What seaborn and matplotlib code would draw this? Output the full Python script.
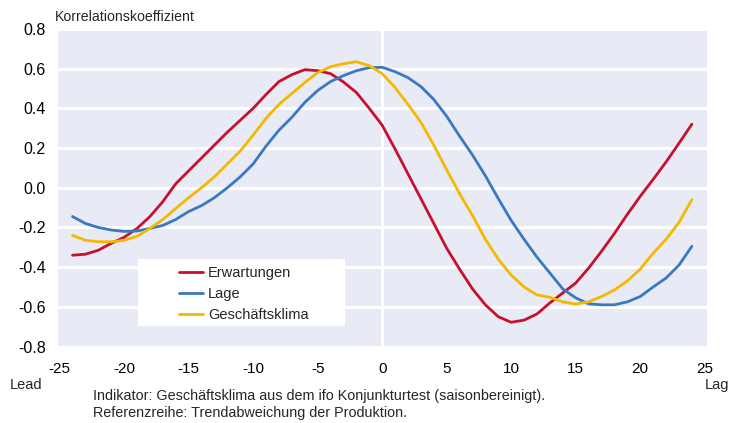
import numpy as np
import pandas as pd
import matplotlib
matplotlib.use("Agg")
import matplotlib.pyplot as plt
import seaborn as sns
from matplotlib.patches import Rectangle

lags = list(range(-24, 25))
erwartungen = [-0.34, -0.335, -0.315, -0.28, -0.25, -0.205, -0.145, -0.07, 0.02, 0.085, 0.15, 0.215, 0.28,
               0.34, 0.40, 0.47, 0.535, 0.57, 0.595, 0.59, 0.575, 0.533, 0.48, 0.40, 0.315,
               0.195, 0.07, -0.055, -0.18, -0.305, -0.41, -0.51, -0.59, -0.65, -0.678, -0.667, -0.636, -0.58,
               -0.53, -0.48, -0.405, -0.32, -0.23, -0.134, -0.043, 0.042, 0.13, 0.224, 0.32]
lage = [-0.145, -0.18, -0.20, -0.213, -0.22, -0.218, -0.205, -0.19, -0.16, -0.12, -0.09, -0.05, 0.0,
        0.055, 0.12, 0.21, 0.29, 0.355, 0.43, 0.49, 0.535, 0.565, 0.59, 0.605, 0.607,
        0.585, 0.555, 0.51, 0.445, 0.36, 0.26, 0.165, 0.06, -0.055, -0.165, -0.26, -0.35, -0.43,
        -0.51, -0.555, -0.585, -0.59, -0.59, -0.575, -0.548, -0.50, -0.455, -0.39, -0.295]
klima = [-0.24, -0.265, -0.272, -0.272, -0.265, -0.245, -0.205, -0.16, -0.105, -0.05, 0.0, 0.055, 0.12,
         0.185, 0.265, 0.35, 0.42, 0.475, 0.53, 0.58, 0.61, 0.625, 0.635, 0.615, 0.575,
         0.505, 0.42, 0.33, 0.215, 0.09, -0.03, -0.14, -0.26, -0.36, -0.44, -0.50, -0.54, -0.552,
         -0.575, -0.586, -0.575, -0.548, -0.515, -0.47, -0.41, -0.33, -0.26, -0.175, -0.06]
series_names = ["Erwartungen", "Lage", "Geschäftsklima"]
colors = ["#C8102E", "#3A78C2", "#F5B800"]
xticks = [-25, -20, -15, -10, -5, 0, 5, 10, 15, 20, 25]
yticks = [-0.8, -0.6, -0.4, -0.2, 0.0, 0.2, 0.4, 0.6, 0.8]

df = pd.concat([
    pd.DataFrame({"lag": lags, "value": vals, "series": name})
    for name, vals in zip(series_names, [erwartungen, lage, klima])
])

sns.set_style("darkgrid", {"axes.facecolor": "#E8EBF5", "grid.color": "white"})
plt.rcParams["font.family"] = ["Liberation Sans", "DejaVu Sans"]

W, H = 730, 423
fig = plt.figure(figsize=(W / 100, H / 100), dpi=100)
ax = fig.add_axes([58.3 / W, 1 - 346.5 / H, (706.7 - 58.3) / W, (346.5 - 29) / H])

sns.lineplot(data=df, x="lag", y="value", hue="series", palette=colors,
             hue_order=series_names, linewidth=2.0, ax=ax, legend=True)

ax.set_xlim(-25.1, 25.15)
ax.set_ylim(-0.8, 0.8)
ax.set_xticks(xticks)
ax.set_yticks(yticks)
ax.set_xticklabels([str(t) for t in xticks])
ax.set_yticklabels([f"{t:.1f}" for t in yticks])
ax.grid(axis="x", visible=False)
ax.grid(axis="y", color="white", linewidth=2.2)
ax.axvline(0, color="white", linewidth=2.2, zorder=1)
for sp in ax.spines.values():
    sp.set_visible(False)
ax.tick_params(axis="x", length=0, pad=11, labelsize=11, colors="black")
ax.tick_params(axis="y", length=0, pad=9, labelsize=11.5, colors="black")
ax.set_xlabel("")
ax.set_ylabel("")

# legend box
lx0, lx1, ly0, ly1 = 138.3, 345, 259, 325.7
ax.add_patch(Rectangle(((lx0 - 58.3) / 648.4, (346.5 - ly1) / 317.5),
                       (lx1 - lx0) / 648.4, (ly1 - ly0) / 317.5,
                       transform=ax.transAxes, facecolor="white", edgecolor="none", zorder=2))
leg = ax.legend(loc="upper left", bbox_to_anchor=((175 - 58.3) / 648.4, (346.5 - 262) / 317.5),
                frameon=False, fontsize=10.5, handlelength=1.67, handletextpad=0.34,
                labelspacing=0.48, borderaxespad=0, borderpad=0.25)
for line in leg.get_lines():
    line.set_linewidth(2.0)
leg.set_zorder(3)

fig.text(55 / W, 1 - 17 / H, "Korrelationskoeffizient", fontsize=10.2, va="center", ha="left")
fig.text(10 / W, 1 - 385 / H, "Lead", fontsize=10.5, va="center", ha="left")
fig.text(729 / W, 1 - 385 / H, "Lag", fontsize=10.5, va="center", ha="right")
fig.text(93 / W, 1 - 396 / H, "Indikator: Geschäftsklima aus dem ifo Konjunkturtest (saisonbereinigt).",
         fontsize=10.4, va="center", ha="left")
fig.text(93 / W, 1 - 413 / H, "Referenzreihe: Trendabweichung der Produktion.",
         fontsize=10.4, va="center", ha="left")

fig.savefig("out.png", dpi=100, facecolor="white")
